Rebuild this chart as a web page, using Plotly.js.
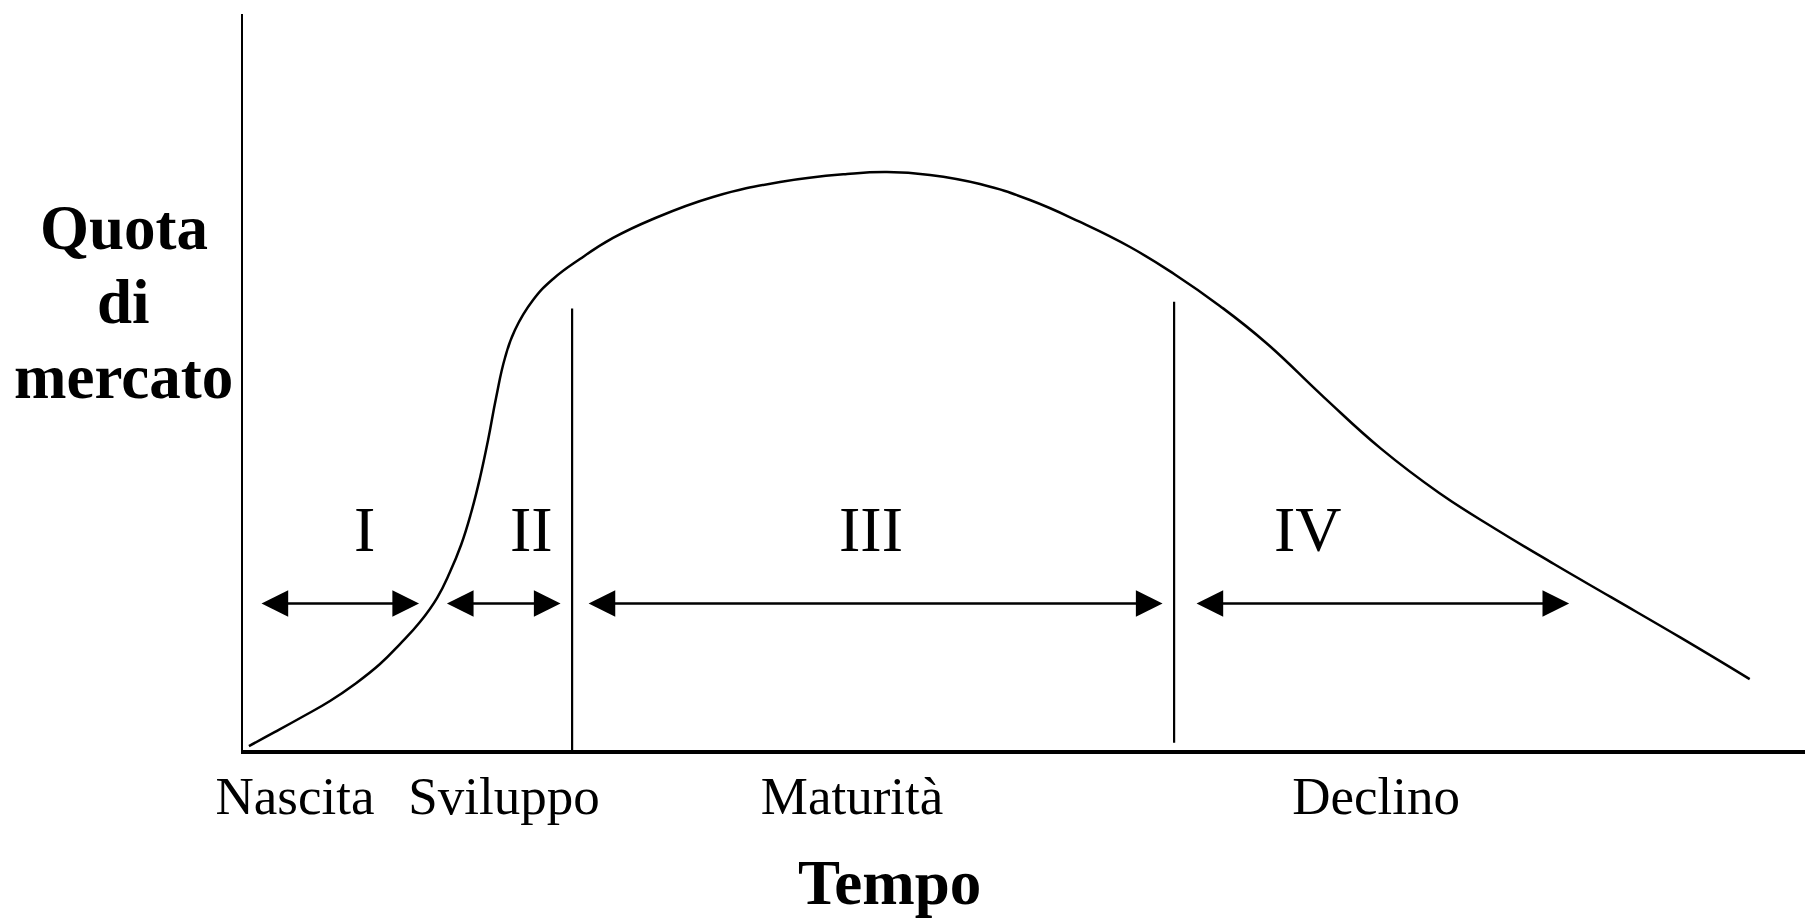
<!DOCTYPE html>
<html><head><meta charset="utf-8">
<script src="https://cdn.plot.ly/plotly-3.0.1.min.js"></script>
<style>html,body{margin:0;padding:0;background:#fff}#chart{width:1805px;height:920px}</style>
</head><body><div id="chart"></div>
<script>
// Product life cycle curve (time 0-100, market share 0-100)
const timeX = [0.38, 2.05, 3.78, 5.57, 7.17, 8.77, 10.05, 11.33, 12.42, 13.25, 13.96, 14.60, 15.17, 15.69, 16.20, 16.77, 17.41, 18.57, 19.85, 21.57, 23.69, 26.25, 30.09, 34.38, 38.67, 41.23, 43.98, 47.18, 50.38, 53.59, 56.79, 59.61, 62.56, 65.51, 69.19, 72.87, 76.56, 80.24, 83.93, 87.61, 92.04, 96.46];
const quota = [0.54, 2.45, 4.48, 6.66, 8.97, 11.68, 14.40, 17.39, 20.65, 24.18, 27.85, 32.20, 36.96, 42.12, 47.83, 53.26, 57.07, 61.14, 64.00, 66.71, 69.57, 72.15, 75.14, 77.17, 78.26, 78.53, 78.13, 76.90, 74.73, 71.74, 68.34, 64.68, 60.30, 55.30, 47.95, 40.91, 34.96, 29.96, 25.27, 20.73, 15.26, 9.63];

// Phase boundaries (vertical dividers)
const boundaryX = [21.07, 59.61];
const boundaryBottom = [0, 1.0];
const boundaryTop = [60.0, 60.9];

// Phase arrows and roman numerals
const phaseLabels = ['I', 'II', 'III', 'IV'];
const phaseStart = [1.09, 12.96, 22.03, 60.95];
const phaseEnd = [11.27, 20.33, 58.87, 84.9];
const phaseLabelX = [7.75, 18.5, 40.2, 68.2];
const arrowLevel = 19.9;
const phaseLabelLevel = 29.9;

// Stage names under the time axis
const stageNames = ['Nascita', 'Sviluppo', 'Maturità', 'Declino'];
const stageLabelX = [3.33, 16.71, 38.99, 72.54];

const yTitleLines = ['Quota', 'di', 'mercato'];
const xTitle = 'Tempo';

const SERIF = 'Liberation Serif, Times New Roman, serif';

const bx = [], by = [];
boundaryX.forEach((b, i) => { bx.push(b, b, null); by.push(boundaryBottom[i], boundaryTop[i], null); });

const traces = [
  { x: timeX, y: quota, type: 'scatter', mode: 'lines', line: { color: '#000', width: 2.5, shape: 'spline', smoothing: 1.3 }, hoverinfo: 'skip' },
  { x: bx, y: by, type: 'scatter', mode: 'lines', line: { color: '#000', width: 2.2 }, hoverinfo: 'skip' }
];

const annotations = [];
phaseLabels.forEach((lab, i) => {
  annotations.push({
    x: phaseEnd[i], y: arrowLevel, ax: phaseStart[i], ay: arrowLevel,
    xref: 'x', yref: 'y', axref: 'x', ayref: 'y',
    text: '', showarrow: true, arrowside: 'end+start',
    arrowhead: 2, startarrowhead: 2, arrowsize: 2.05, startarrowsize: 2.05,
    arrowwidth: 2.6, arrowcolor: '#000', standoff: 0, startstandoff: 0
  });
  annotations.push({
    x: phaseLabelX[i], y: phaseLabelLevel, xref: 'x', yref: 'y',
    text: lab, showarrow: false, xanchor: 'center', yanchor: 'middle',
    font: { family: SERIF, size: 64, color: '#000' }
  });
});
const yTitleY = [0.7098, 0.6092, 0.5073];
yTitleLines.forEach((t, i) => {
  annotations.push({
    x: -0.0762, y: yTitleY[i], xref: 'paper', yref: 'paper',
    text: t, showarrow: false, xanchor: 'center', yanchor: 'middle',
    font: { family: SERIF, size: 63, color: '#000', weight: 700 }
  });
});
annotations.push({
  x: 41.42, y: -0.1802, xref: 'x', yref: 'paper',
  text: xTitle, showarrow: false, xanchor: 'center', yanchor: 'middle',
  font: { family: SERIF, size: 63, color: '#000', weight: 700 }
});

const layout = {
  width: 1805, height: 920,
  margin: { l: 243, r: 0, t: 14, b: 170, pad: 0 },
  paper_bgcolor: '#fff', plot_bgcolor: '#fff', showlegend: false,
  font: { family: SERIF, color: '#000' },
  xaxis: {
    range: [0, 100], showline: true, linewidth: 3.5, linecolor: '#000',
    showgrid: false, zeroline: false, ticks: '',
    tickmode: 'array', tickvals: stageLabelX, ticktext: stageNames,
    tickfont: { family: SERIF, size: 53, color: '#000' }, ticklabelstandoff: -3
  },
  yaxis: {
    range: [0, 100], showline: true, linewidth: 2.5, linecolor: '#000',
    showgrid: false, zeroline: false, ticks: '', showticklabels: false
  },
  annotations: annotations
};

Plotly.newPlot('chart', traces, layout, { displayModeBar: false, staticPlot: true });
</script>
</body></html>
